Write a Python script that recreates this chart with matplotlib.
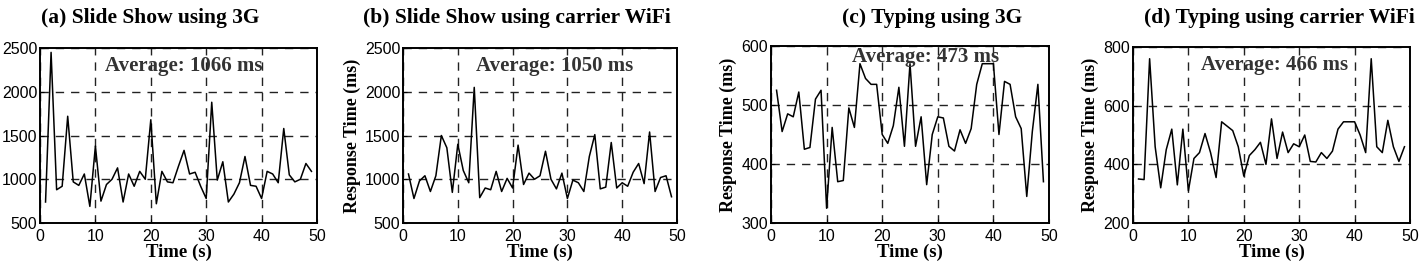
import numpy as np
import matplotlib
matplotlib.use('Agg')
import matplotlib.pyplot as plt

# time axis (s)
t = list(range(1, 50))

# (a) Slide Show using 3G
slide_3g = [740, 2450, 880, 920, 1720, 970, 930, 1060, 690, 1380,
            750, 940, 1000, 1130, 740, 1060, 920, 1090, 1000, 1680,
            720, 1090, 970, 960, 1150, 1330, 1060, 1080, 920, 780,
            1880, 990, 1200, 740, 830, 960, 1260, 930, 920, 780,
            1090, 1060, 960, 1580, 1050, 970, 1000, 1180, 1090]

# (b) Slide Show using carrier WiFi
slide_wifi = [1060, 780, 980, 1040, 860, 1040, 1500, 1360, 850, 1400,
              1100, 960, 2050, 790, 900, 880, 1090, 860, 1010, 900,
              1390, 940, 1070, 1000, 1040, 1320, 1000, 890, 1070, 780,
              990, 960, 860, 1260, 1510, 890, 910, 1420, 900, 960,
              920, 1080, 1180, 950, 1540, 860, 1020, 1040, 800]

# (c) Typing using 3G
typing_3g = [525, 455, 485, 480, 522, 425, 428, 510, 525, 325,
             462, 370, 372, 495, 462, 570, 545, 535, 535, 450,
             435, 465, 530, 430, 570, 430, 480, 365, 450, 480,
             478, 430, 422, 458, 435, 460, 535, 570, 570, 570,
             450, 540, 535, 480, 460, 345, 455, 535, 370]

# (d) Typing using carrier WiFi
typing_wifi = [350, 348, 760, 460, 320, 450, 520, 330, 520, 310,
               420, 440, 505, 440, 355, 545, 530, 515, 460, 360,
               430, 450, 475, 400, 555, 420, 510, 440, 470, 460,
               500, 410, 408, 440, 420, 445, 520, 545, 545, 545,
               500, 440, 760, 460, 440, 550, 460, 410, 460]

titles = ['(a) Slide Show using 3G', '(b) Slide Show using carrier WiFi',
          '(c) Typing using 3G', '(d) Typing using carrier WiFi']
averages = ['Average: 1066 ms', 'Average: 1050 ms', 'Average: 473 ms', 'Average: 466 ms']
series = [slide_3g, slide_wifi, typing_3g, typing_wifi]
ylims = [(500, 2500), (500, 2500), (300, 600), (200, 800)]
yticks = [[500, 1000, 1500, 2000, 2500], [500, 1000, 1500, 2000, 2500],
          [300, 400, 500, 600], [200, 400, 600, 800]]

W, H = 1423.0, 266.0
# axes boxes in pixels: left, right, top, bottom
boxes = [(40, 317, 48, 223), (403, 677, 48, 223), (771, 1049, 46, 223), (1133, 1410, 47, 223)]
title_x = [150, 517, 932, 1279]
avg_pos = [(0.52, 0.9), (0.555, 0.9), (0.555, 0.94), (0.51, 0.9)]
show_ylabel = [False, True, True, True]

serif = ['Liberation Serif', 'DejaVu Serif']
plt.rcParams['font.family'] = ['Liberation Sans', 'DejaVu Sans']

fig = plt.figure(figsize=(W / 100, H / 100), dpi=100)

for i in range(4):
    l, r, top, b = boxes[i]
    ax = fig.add_axes([l / W, 1 - b / H, (r - l) / W, (b - top) / H])
    ax.plot(t, series[i], color='black', lw=1.1)
    ax.set_xlim(0, 50)
    ax.set_ylim(*ylims[i])
    ax.set_xticks([0, 10, 20, 30, 40, 50])
    ax.set_yticks(yticks[i])
    ax.grid(True, color='#222222', linestyle=(0, (6, 5)), lw=1.0)
    ax.tick_params(direction='in', length=3, labelsize=11.5, pad=2)
    ax.tick_params(axis='x', pad=4)
    for s in ax.spines.values():
        s.set_linewidth(1.4)
    ax.set_xlabel('Time (s)', fontfamily=serif, fontweight='bold', fontsize=13.5, labelpad=0)
    if show_ylabel[i]:
        ax.set_ylabel('Response Time (ms)', fontfamily=serif, fontweight='bold', fontsize=13, labelpad=3)
    fig.text(title_x[i] / W, 1 - 18 / H, titles[i], ha='center', va='center',
             fontfamily=serif, fontweight='bold', fontsize=15.5)
    ax.text(avg_pos[i][0], avg_pos[i][1], averages[i], transform=ax.transAxes,
            ha='center', va='center', fontfamily=serif, fontweight='bold',
            fontsize=15, color='#333333')

fig.savefig('out.png', dpi=100)
